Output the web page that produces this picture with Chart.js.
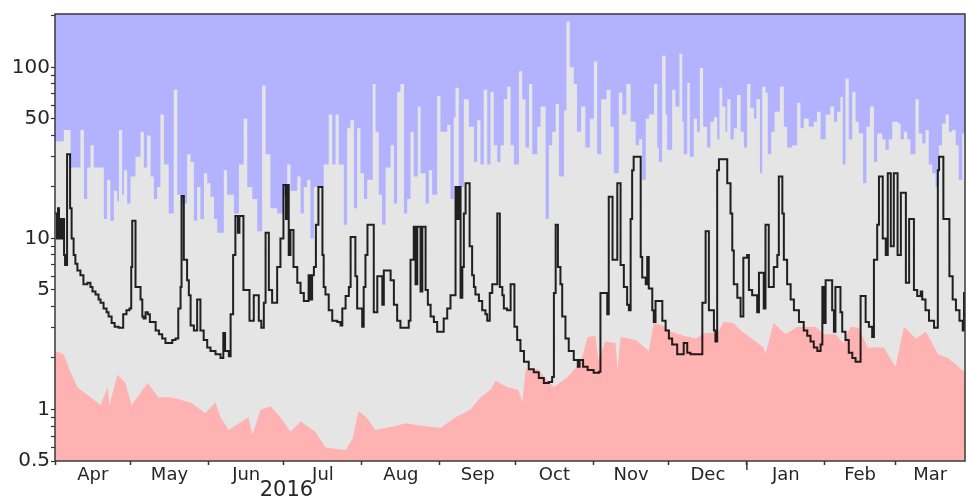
<!DOCTYPE html>
<html>
<head>
<meta charset="utf-8">
<script src="https://cdn.jsdelivr.net/npm/chart.js@4.4.1/dist/chart.umd.min.js"></script>
<style>
  html, body { margin: 0; padding: 0; background: #fff; }
  #wrap { width: 966px; height: 501px; }
</style>
</head>
<body>
<div id="wrap"><canvas id="flowChart" width="966" height="501"></canvas></div>
<script>
// x = days since 1 Apr 2016
const monthNames = ['Apr', 'May', 'Jun', 'Jul', 'Aug', 'Sep', 'Oct', 'Nov', 'Dec', 'Jan', 'Feb', 'Mar'];
const monthStart = [0, 30, 61, 91, 122, 153, 183, 214, 244, 275, 306, 334];
const lastDay = 361.7;
const yearStartDay = 275;
const yearLabel = '2016';
const yearLabelDay = 92;

const yTicks = [0.5, 0.6, 0.7, 0.8, 0.9, 1, 2, 3, 4, 5, 6, 7, 8, 9, 10, 20, 30, 40, 50, 60, 70, 80, 90, 100, 200];
const yLabels = [0.5, 1, 5, 10, 50, 100];

// highest flow on record for each day [day, value]
const maxSeries = [[0,37],[3.5,43],[6.2,26],[10.1,43],[11.5,17],[12.8,26],[14.1,35],[15.4,26],[19.4,13],[20.7,22],[22,12.7],[23.4,19],[24.7,16.5],[25.4,43],[26.7,18],[27.4,25],[28.7,16],[30,23],[32,30],[34,42],[35.3,26],[36.6,40],[38,23],[39.3,17],[40.6,20],[41.9,53],[43.3,27],[45.2,14],[47.2,74],[48.6,18],[50.5,16],[52.5,31],[53.9,28],[55.2,12.7],[56.5,20],[57.8,13],[59.2,24],[60.5,21],[61.8,17.5],[63.2,13],[64.5,10.8],[67.1,25],[68.4,18],[71.1,14],[73.1,27],[75,50],[76.4,20],[78.4,17],[80.4,11],[82.3,78],[83.7,31],[85.6,15],[88.3,14],[91,17.5],[92.3,27],[93.6,19],[96.3,23],[97.6,14],[98.9,20],[100.2,22],[101.5,10],[102.9,20],[106.8,27],[108.8,53],[110.2,27],[111.5,53],[112.8,27],[114.8,12],[116.1,44],[117.4,49],[118.8,15],[120.1,44],[121.4,24],[122.8,17],[124.1,22],[126.3,80],[127.4,42],[128.7,18],[130,12],[131.4,26],[133.4,35],[134.7,16],[136,72],[137.3,80],[138.7,14],[140,17],[141.3,42],[142.6,23],[144.2,59],[145.3,24],[147.3,16],[148.6,25],[149.9,18],[151.9,68],[153.2,42],[155.9,46],[157.2,17],[158.5,51],[159.2,76],[160.5,20],[162.5,65],[164.5,45],[166.5,28],[167.8,49],[169.1,27],[170.4,74],[171.8,27],[173.1,72],[174.4,35],[175.8,28],[177.1,35],[178.4,65],[179.7,77],[181.1,35],[182.4,27],[184.4,95],[185.7,65],[187,34],[188.4,80],[189.7,31],[191.7,45],[193,59],[195,13],[196.3,35],[197.6,42],[199,61],[200.3,23],[202.3,56],[203.3,185],[204.6,100],[206.2,80],[207.5,42],[209.1,59],[210.8,34],[212.6,50],[214.2,108],[215.5,31],[217.1,65],[219.2,74],[220.8,45],[222.1,24],[224.1,71],[225.5,53],[227.1,80],[228.8,48],[230.8,35],[232.1,38],[233.4,22],[234.8,50],[236.1,53],[238.1,80],[239.4,34],[240,28],[241.3,117],[242.7,53],[243.3,33],[245.3,74],[246.6,59],[248.2,120],[249.3,48],[249.9,31],[251.3,81],[252.3,30],[253.9,50],[255.2,42],[256.3,99],[257.6,45],[259.2,34],[260.5,48],[261.9,51],[263.2,38],[264.1,76],[265.2,59],[266.5,42],[267.2,65],[268.5,38],[269.8,44],[271.1,69],[272.5,42],[273.8,34],[275.1,80],[276.4,58],[277.8,50],[278.8,65],[280.2,24],[281.1,77],[282.4,71],[283.3,31],[284.7,42],[286,55],[288.1,77],[289.7,45],[291,34],[293,35],[295,62],[296.3,44],[297.6,50],[299.6,45],[301.6,48],[302.9,55],[304.3,38],[306.3,53],[308.2,59],[309.6,48],[310.9,55],[312.2,67],[313.1,27],[314.2,86],[315.5,38],[316.9,72],[318.2,48],[319.5,41],[321.2,21],[322.5,45],[323.9,59],[325.5,28],[326.8,41],[328.8,38],[330.1,33],[331.4,38],[332.8,48],[334.1,48],[335.1,47],[336.1,38],[337.4,42],[338.7,38],[340,31],[342,65],[343.3,41],[344.7,36],[346,43],[347.3,27],[348.7,24],[350,20],[351.3,35],[352.6,47],[354,53],[355.3,42],[356.6,43],[358,35],[359.2,22],[360.6,41],[361.9,33]];

// lowest flow on record for each day
const minSeries = [[0,2.2],[3.4,2.1],[6.2,1.65],[8.9,1.35],[14.1,1.18],[18.1,1.06],[20.9,1.35],[21.7,1.06],[24.8,1.6],[28,1.43],[30.4,1.06],[36.8,1.43],[41.1,1.18],[45.9,1.18],[53.9,1.1],[59.8,0.95],[63.8,1.1],[65.8,0.9],[69,0.76],[76.9,0.9],[78.5,0.71],[81.7,1.0],[85.7,1.04],[89.6,0.9],[93.6,0.74],[97.6,0.85],[103.5,0.74],[107.5,0.6],[115.5,0.58],[118.3,0.68],[120.6,0.98],[123.8,0.9],[127.4,0.76],[135.3,0.8],[139.3,0.83],[146.5,0.8],[153.2,0.78],[159.2,0.9],[165.2,1.0],[169.1,1.18],[173.1,1.3],[175.1,1.47],[179.9,1.35],[184.2,1.3],[185.8,1.1],[187,1.7],[191.8,1.72],[198.2,1.35],[203.7,1.55],[208.9,1.88],[211.7,2.65],[214.8,2.7],[216,1.95],[218.8,2.5],[222.8,2.45],[223.6,1.7],[224.8,2.65],[230.8,2.55],[236,2.2],[238,3.2],[241.6,3.1],[244.8,2.85],[249.8,2.7],[254.6,2.6],[258.6,2.8],[263.4,2.8],[265.7,3.25],[269.7,3.2],[272.5,2.9],[278.5,2.5],[281.6,2.3],[282.4,2.1],[285.6,3.2],[290.4,2.75],[295.1,3.05],[302.3,3.05],[305.5,2.75],[310.2,2.75],[313.4,2.45],[316.2,3.05],[319.4,3.0],[323,2.3],[329.4,2.3],[334.1,1.77],[337.4,3.05],[342.2,2.6],[346.2,2.85],[351,2.1],[354.9,2.0],[361.7,1.65]];

// observed daily flow
const flowSeries = [[0,14],[0.8,10],[1.2,15],[1.6,10],[2.2,13],[2.8,10],[3.2,13],[3.6,8],[4,7],[4.8,31],[6,15],[6.6,10],[7.4,8],[8.1,7.1],[8.9,6.5],[10.1,6.1],[11.3,5.4],[12.9,5.5],[14.1,5.2],[14.9,4.9],[16.1,4.7],[17.3,4.4],[18.1,4.2],[19.3,3.9],[20.5,3.7],[21.3,3.5],[22.5,3.2],[23.7,3.05],[25.3,3.0],[27.1,3.6],[28.4,3.8],[29.6,3.9],[30.3,6.8],[30.7,12.7],[32,5.2],[34,4.4],[34.7,3.5],[35.2,3.4],[36,3.7],[36.9,3.6],[37.7,3.25],[40,2.9],[41.3,2.75],[42.6,2.6],[43.9,2.45],[46.6,2.55],[47.9,2.6],[49,3.9],[49.9,5.2],[50.3,17.7],[51.2,7.5],[52.5,5.7],[53.2,4.65],[53.9,3.1],[55.2,2.9],[56.5,4.4],[57.8,2.9],[59.1,2.55],[60.5,2.3],[61.8,2.2],[63.8,2.1],[65.8,2.0],[66.9,2.8],[67.6,2.2],[69.1,2.05],[69.8,3.6],[70.8,8],[71.7,13.5],[72.7,10.8],[73.3,13.5],[74.9,5.0],[77.3,3.3],[79,4.65],[81,3.3],[82,3.0],[83,4.2],[83.7,10.8],[85,5.0],[86.3,4.2],[88.3,6.8],[89.6,10],[90.8,20.5],[91.8,13],[92.2,20.5],[92.9,8],[93.6,11.2],[94.8,6.8],[96.3,5.5],[97.6,4.8],[98.9,4.3],[100.8,6.1],[101.6,4.4],[102.2,6.1],[102.9,6.8],[103.7,12],[104.7,20],[106.3,8],[106.8,5.2],[107.5,4.7],[108.8,3.8],[110.2,3.3],[112.2,3.25],[113.5,3.1],[114.2,3.9],[115.5,4.6],[116.8,5.2],[117.5,10.2],[119.4,6],[120.1,3.9],[122.1,3.05],[122.7,5.2],[123.4,8],[124.2,12],[126.7,3.7],[128.1,6],[130.1,4.1],[130.7,6.5],[133.4,5.7],[134.7,4.1],[136,3.3],[137.3,3.0],[140.6,3.3],[141.3,7.5],[142.6,11.7],[143.3,5.4],[144,11.7],[145.3,4.9],[146,11.7],[147.3,5.0],[148.2,4.1],[149.3,3.5],[150.6,3.25],[151.9,2.85],[154.5,3.4],[155.9,3.9],[157.2,4.65],[159.2,20],[159.9,13],[160.5,20],[161.2,4.5],[161.9,6.8],[162.5,14],[163.2,21],[164.8,9],[165.8,6.1],[166.5,5.2],[167.1,4.7],[168.5,4.3],[169.8,3.8],[171.1,3.6],[171.8,3.3],[172.8,4.8],[173.8,5.4],[175.8,14],[176.8,5.2],[177.8,4.65],[178.4,3.9],[179.7,3.8],[181.1,5.4],[182.6,3.05],[183.7,2.55],[185,2.2],[186.4,1.9],[188.3,1.72],[190.3,1.65],[192.3,1.53],[194.3,1.43],[196.3,1.45],[197.6,1.55],[198.3,4.8],[199,12],[199.9,6.8],[200.9,5.4],[201.6,3.5],[202.9,2.6],[204.2,2.2],[206.2,1.95],[207.8,1.78],[208.5,1.95],[209.9,1.78],[211.7,1.7],[214.1,1.64],[216.2,1.66],[216.8,4.8],[218.2,4.8],[219.5,3.6],[220.1,17.5],[221.6,7.5],[223.5,21],[224.8,7],[226.1,5.2],[227.4,4.1],[228.1,3.8],[228.8,13],[229.4,25],[230,30],[232,30],[232.8,7.8],[233.4,5.9],[234.8,5.4],[235.4,7.8],[236,5.1],[237.4,3.8],[238,3.25],[238.7,4.3],[241.4,3.3],[242.7,2.9],[244,2.6],[245.3,2.4],[247.3,2.1],[249.9,2.45],[251.3,2.15],[252.6,2.1],[257.3,4.2],[258.6,11],[259.9,3.8],[261.9,2.9],[262.5,2.5],[263.2,25],[263.9,29],[267.2,21],[268.5,14],[269.2,8.5],[269.8,5.4],[271.2,4.5],[272.5,3.5],[273.6,7.7],[275.1,8],[275.8,5.0],[277.1,4.65],[279.1,3.7],[279.8,6.3],[281.7,3.9],[282.4,12],[283.7,5.2],[285.7,6.8],[287.1,8],[287.7,23],[289.1,14],[289.7,7.5],[291,5.4],[292.4,4.4],[293.7,3.8],[295.7,3.25],[297.6,2.9],[299,2.7],[300.3,2.5],[301.6,2.3],[303,2.2],[304.3,2.4],[305,5.2],[305.6,3.2],[306.3,5.7],[308.9,3.8],[309.6,2.85],[310.2,5.2],[312.2,3.7],[312.9,2.85],[314.2,2.55],[315.5,2.15],[316.9,2.0],[318.2,1.9],[320.2,4.6],[322.2,3.25],[323.5,3.05],[324.8,2.65],[325.5,7.5],[326.8,12],[327.5,23],[329,10],[330.2,8],[331,24],[332.2,9],[333.4,24],[334.9,8],[336.2,18.5],[338.2,5.5],[339.5,13],[341.4,5.0],[342.7,4.6],[344.1,4.9],[344.7,4.4],[346,3.8],[347.4,3.3],[349.4,3.0],[350.9,25],[351.4,30],[353.1,13],[355.5,6],[356.8,4.4],[358.1,3.8],[359.5,3.3],[360.8,2.9],[361.3,4.8],[361.7,4.8]];

const skyBlue = 'rgb(178,178,255)';
const rangeGrey = 'rgb(229,229,229)';
const lowPink = 'rgb(255,178,178)';
const textColor = '#262626';

const toPoints = arr => arr.map(p => ({ x: p[0], y: p[1] }));

// month label sits in the middle of the visible part of the month
const labelDays = monthStart.map((s, i) => (s + Math.min(monthStart[i + 1] ?? lastDay, lastDay)) / 2);

const framePlugin = {
    id: 'frame',
    beforeDatasetsDraw(chart) {
        const { ctx, chartArea: a } = chart;
        ctx.save();
        ctx.fillStyle = skyBlue;
        ctx.fillRect(a.left, a.top, a.width, a.height);
        ctx.restore();
    },
    afterDraw(chart) {
        const { ctx, chartArea: a } = chart;
        const xs = chart.scales.x;
        ctx.save();
        ctx.strokeStyle = '#3a3a3a';
        ctx.lineWidth = 1.5;
        ctx.strokeRect(a.left, a.top, a.width, a.height);
        // longer tick at the year boundary
        const yx = xs.getPixelForValue(yearStartDay);
        ctx.beginPath();
        ctx.moveTo(yx, a.bottom);
        ctx.lineTo(yx, a.bottom + 9);
        ctx.stroke();
        ctx.fillStyle = textColor;
        ctx.font = '21px "DejaVu Sans"';
        ctx.textAlign = 'center';
        ctx.textBaseline = 'middle';
        ctx.fillText(yearLabel, xs.getPixelForValue(yearLabelDay), 491);
        ctx.restore();
    }
};

new Chart(document.getElementById('flowChart'), {
    type: 'line',
    data: {
        datasets: [
            {
                label: 'Flow',
                data: toPoints(flowSeries),
                borderColor: 'rgba(10,10,10,0.9)',
                borderWidth: 2,
                stepped: true,
                fill: false,
                pointRadius: 0,
                order: 1
            },
            {
                label: 'Minimum',
                data: toPoints(minSeries),
                borderWidth: 0,
                borderColor: 'rgba(0,0,0,0)',
                backgroundColor: lowPink,
                fill: 'start',
                tension: 0,
                pointRadius: 0,
                order: 2
            },
            {
                label: 'Maximum',
                data: toPoints(maxSeries),
                borderWidth: 0,
                borderColor: 'rgba(0,0,0,0)',
                backgroundColor: rangeGrey,
                fill: 'start',
                stepped: true,
                pointRadius: 0,
                order: 3
            }
        ]
    },
    options: {
        responsive: false,
        animation: false,
        events: [],
        layout: { padding: { top: 14, right: 1, left: 0, bottom: 0 } },
        plugins: { legend: { display: false }, tooltip: { enabled: false } },
        scales: {
            x: {
                type: 'linear',
                position: 'bottom',
                min: 0,
                max: lastDay,
                afterBuildTicks: s => { s.ticks = monthStart.map(v => ({ value: v })); },
                afterFit: s => { s.height = 4; },
                ticks: { display: false },
                grid: { drawOnChartArea: false, drawTicks: true, tickLength: 4, tickColor: '#333', tickWidth: 1.5 },
                border: { display: false }
            },
            xl: {
                type: 'linear',
                position: 'bottom',
                min: 0,
                max: lastDay,
                afterBuildTicks: s => { s.ticks = labelDays.map(v => ({ value: v })); },
                afterFit: s => { s.height = 36; },
                ticks: {
                    autoSkip: false,
                    maxRotation: 0,
                    padding: 0,
                    color: textColor,
                    font: { family: '"DejaVu Sans"', size: 18 },
                    callback: (v, i) => monthNames[i]
                },
                grid: { display: false, drawTicks: false },
                border: { display: false }
            },
            y: {
                type: 'logarithmic',
                min: 0.5,
                max: 205,
                afterBuildTicks: s => { s.ticks = yTicks.map(v => ({ value: v })); },
                afterFit: s => { s.width = 55; },
                ticks: {
                    autoSkip: false,
                    padding: 1,
                    color: textColor,
                    font: { family: '"DejaVu Sans"', size: 20 },
                    callback: v => yLabels.includes(v) ? String(v) : ''
                },
                grid: { drawOnChartArea: false, tickLength: 4, tickColor: '#333', tickWidth: 1.2 },
                border: { display: false }
            }
        }
    },
    plugins: [framePlugin]
});
</script>
</body>
</html>
